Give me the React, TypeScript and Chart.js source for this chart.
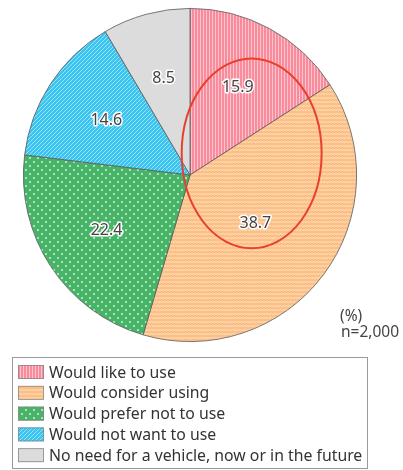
import React, { useEffect, useRef } from "react";
import { Chart, registerables } from "chart.js";

Chart.register(...registerables);

const categories = [
  "Would like to use",
  "Would consider using",
  "Would prefer not to use",
  "Would not want to use",
  "No need for a vehicle, now or in the future",
];
const values = [15.9, 38.7, 22.4, 14.6, 8.5];
const unitLabel = "(%)";
const sampleLabel = "n=2,000";

const FONT = '"Noto Sans", "DejaVu Sans", sans-serif';

function makePattern(kind: string): CanvasPattern | string {
  const c = document.createElement("canvas");
  const g = c.getContext("2d")!;
  if (kind === "pink") {
    c.width = 3; c.height = 3;
    g.fillStyle = "#f88c9c"; g.fillRect(0, 0, 3, 3);
    g.fillStyle = "#fcc3cc"; g.fillRect(2, 0, 1, 3);
  } else if (kind === "orange") {
    c.width = 6; c.height = 4;
    g.fillStyle = "#fcbf86"; g.fillRect(0, 0, 6, 4);
    g.strokeStyle = "#fedcba"; g.lineWidth = 1;
    g.beginPath();
    g.moveTo(0, 3); g.lineTo(1.5, 1); g.lineTo(3, 3); g.lineTo(4.5, 1); g.lineTo(6, 3);
    g.stroke();
  } else if (kind === "green") {
    c.width = 8; c.height = 8;
    g.fillStyle = "#48b467"; g.fillRect(0, 0, 8, 8);
    g.fillStyle = "#d0f2d8";
    g.beginPath(); g.arc(2, 2, 1, 0, Math.PI * 2); g.fill();
    g.beginPath(); g.arc(6, 6, 1, 0, Math.PI * 2); g.fill();
  } else if (kind === "blue") {
    c.width = 4; c.height = 4;
    g.fillStyle = "#3cc4f0"; g.fillRect(0, 0, 4, 4);
    g.fillStyle = "#95e2f9";
    for (let i = 0; i < 4; i++) g.fillRect(i, 3 - i, 1, 1);
  } else {
    return "#dcdcdc";
  }
  return g.createPattern(c, "repeat")!;
}

const overlayPlugin = {
  id: "overlay",
  afterDatasetsDraw(chart: any) {
    const ctx = chart.ctx as CanvasRenderingContext2D;
    const meta = chart.getDatasetMeta(0);
    // highlight ellipse
    const arc0 = meta.data[0];
    const cx = arc0.x, cy = arc0.y, R = arc0.outerRadius;
    ctx.save();
    ctx.strokeStyle = "#e8402c";
    ctx.lineWidth = 2;
    ctx.beginPath();
    ctx.ellipse(cx + R * 0.37, cy - R * 0.13, R * 0.42, R * 0.57, 0, 0, Math.PI * 2);
    ctx.stroke();
    ctx.restore();

    // value labels
    const vals = chart.data.datasets[0].data as number[];
    const maxV = Math.max(...vals);
    ctx.save();
    ctx.font = `16px ${FONT}`;
    ctx.textAlign = "center";
    ctx.textBaseline = "middle";
    meta.data.forEach((arc: any, i: number) => {
      const mid = (arc.startAngle + arc.endAngle) / 2;
      const f = vals[i] === maxV ? 0.49 : 0.6;
      const x = arc.x + Math.cos(mid) * arc.outerRadius * f;
      const y = arc.y + Math.sin(mid) * arc.outerRadius * f;
      const t = vals[i].toFixed(1);
      ctx.strokeStyle = "#ffffff";
      ctx.lineWidth = 3;
      ctx.lineJoin = "round";
      ctx.strokeText(t, x, y);
      ctx.fillStyle = "#444444";
      ctx.fillText(t, x, y);
    });
    ctx.restore();

    // unit and sample size
    ctx.save();
    ctx.font = `15.5px ${FONT}`;
    ctx.fillStyle = "#444444";
    ctx.textAlign = "left";
    ctx.textBaseline = "middle";
    ctx.fillText(unitLabel, 340, 317);
    ctx.fillText(sampleLabel, 341, 333);
    ctx.restore();

    // legend
    const bg = chart.data.datasets[0].backgroundColor as any[];
    const labels = chart.data.labels as string[];
    ctx.save();
    ctx.strokeStyle = "#9a9a9a";
    ctx.lineWidth = 1;
    ctx.strokeRect(12.5, 357.5, 355, 111);
    ctx.font = `15.8px ${FONT}`;
    ctx.textBaseline = "middle";
    ctx.textAlign = "left";
    labels.forEach((lab, i) => {
      const yc = 372 + i * 20.8;
      ctx.fillStyle = bg[i];
      ctx.fillRect(18, yc - 7, 26, 14);
      ctx.strokeStyle = "#888888";
      ctx.lineWidth = 0.8;
      ctx.strokeRect(18.5, yc - 6.5, 25, 13);
      ctx.fillStyle = "#333333";
      ctx.fillText(lab, 49, yc + 1);
    });
    ctx.restore();
  },
};

export default function App() {
  const ref = useRef<HTMLCanvasElement | null>(null);
  useEffect(() => {
    if (!ref.current) return;
    const bg = [
      makePattern("pink"),
      makePattern("orange"),
      makePattern("green"),
      makePattern("blue"),
      makePattern("gray"),
    ];
    const chart = new Chart(ref.current, {
      type: "pie",
      data: {
        labels: categories,
        datasets: [
          {
            data: values,
            backgroundColor: bg as any,
            borderColor: "#5a5a5a",
            borderWidth: 0.8,
          },
        ],
      },
      options: {
        animation: false,
        responsive: false,
        devicePixelRatio: 1,
        layout: { padding: { left: 23, top: 8, right: 46, bottom: 128 } },
        plugins: {
          legend: { display: false },
          tooltip: { enabled: false },
        },
      },
      plugins: [overlayPlugin],
    });
    return () => chart.destroy();
  }, []);
  return (
    <div style={{ position: "fixed", left: 0, top: 0, width: 403, height: 470, background: "#fff" }}>
      <canvas ref={ref} width={403} height={470} />
    </div>
  );
}
